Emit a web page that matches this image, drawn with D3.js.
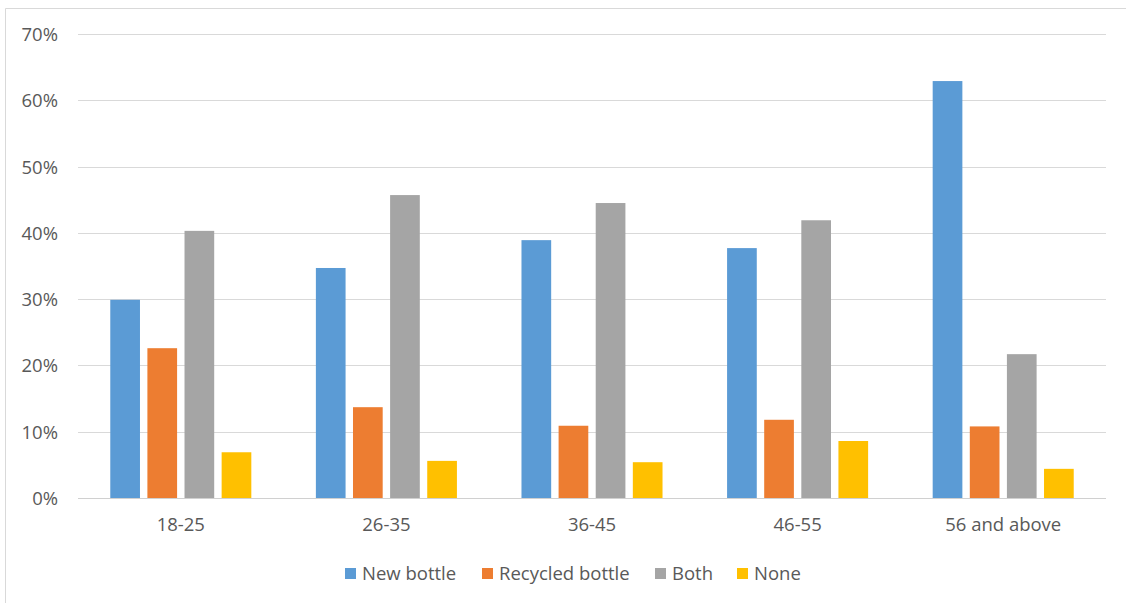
<!DOCTYPE html>
<html><head><meta charset="utf-8">
<script src="https://cdn.jsdelivr.net/npm/d3@7"></script>
<style>
body{margin:0;background:#fff;}
svg text{font-family:"Open Sans",sans-serif;fill:#595959;}
</style></head>
<body><svg id="c" width="1126" height="603"></svg>
<script>
const categories = ["18-25","26-35","36-45","46-55","56 and above"];
const seriesNames = ["New bottle","Recycled bottle","Both","None"];
const newBottle = [29.9, 34.7, 38.9, 37.7, 62.9];
const recycled  = [22.6, 13.7, 10.9, 11.8, 10.8];
const both      = [40.3, 45.7, 44.5, 41.9, 21.7];
const none      = [6.9, 5.6, 5.4, 8.6, 4.4];
const colors = ["#5B9BD5","#ED7D31","#A5A5A5","#FFC000"];
const yTicks = [0,10,20,30,40,50,60,70];

(function(){
const series = [newBottle, recycled, both, none];
const svg = d3.select("#c");
const fs = "18.5px";

svg.append("path").attr("d","M5.5,603 L5.5,8.5 L1126,8.5")
  .attr("fill","none").attr("stroke","#d9d9d9").attr("stroke-width",1);

const pl = 78, pr = 1106, pt = 34, pb = 498;
const x0 = d3.scaleBand().domain(categories).range([pl,pr]).paddingInner(0.314).paddingOuter(0.157);
const x1 = d3.scaleBand().domain(d3.range(series.length)).range([0,x0.bandwidth()]).paddingInner(0.2);
const y = d3.scaleLinear().domain([0,70]).range([pb,pt]);

svg.append("g").selectAll("line").data(yTicks.filter(d=>d>0)).join("line")
  .attr("x1",pl).attr("x2",pr)
  .attr("y1",d=>Math.round(y(d))+0.5).attr("y2",d=>Math.round(y(d))+0.5)
  .attr("stroke","#d9d9d9").attr("stroke-width",1);

const yAxis = d3.axisLeft(y).tickValues(yTicks).tickFormat(d=>d+"%").tickSize(0).tickPadding(0);
const ga = svg.append("g").attr("transform",`translate(58,0)`).call(yAxis);
ga.select(".domain").remove();
ga.selectAll("text").attr("font-size",fs).attr("font-family","Open Sans").attr("fill","#595959").attr("dy","0.35em");

const g = svg.append("g");
categories.forEach((c,i)=>{
  g.append("g").attr("transform",`translate(${x0(c)},0)`)
   .selectAll("rect").data(series.map((s,k)=>({k,v:s[i]}))).join("rect")
   .attr("x",d=>x1(d.k)).attr("width",x1.bandwidth())
   .attr("y",d=>y(d.v)).attr("height",d=>y(0)-y(d.v))
   .attr("fill",d=>colors[d.k]);
});

svg.append("line").attr("x1",pl).attr("x2",pr)
  .attr("y1",Math.round(y(0))+0.5).attr("y2",Math.round(y(0))+0.5)
  .attr("stroke","#d0d0d0").attr("stroke-width",1);

const xAxis = d3.axisBottom(x0).tickSize(0).tickPadding(0);
const gx = svg.append("g").attr("transform",`translate(0,${pb+27})`).call(xAxis);
gx.select(".domain").remove();
gx.selectAll("text").attr("font-size",fs).attr("font-family","Open Sans").attr("fill","#595959").attr("dy","0.35em");

const legendX = [345, 482, 655, 737];
const lg = svg.append("g");
seriesNames.forEach((n,k)=>{
  lg.append("rect").attr("x",legendX[k]).attr("y",568).attr("width",11).attr("height",11).attr("fill",colors[k]);
  lg.append("text").attr("x",legendX[k]+17).attr("y",573.5).attr("dy","0.35em")
    .attr("font-size",fs).text(n);
});
})();
</script></body></html>
